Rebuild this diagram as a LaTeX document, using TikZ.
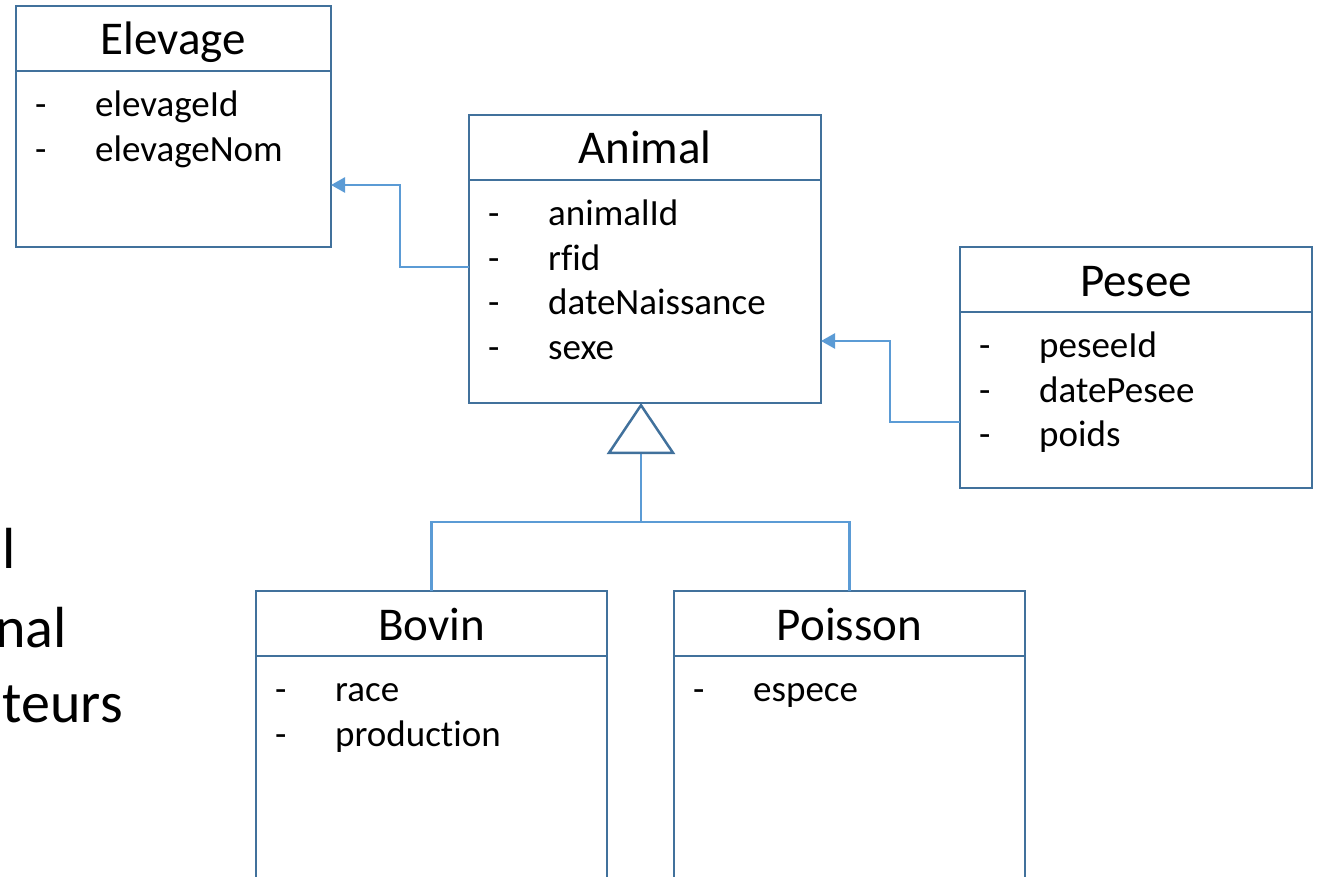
\documentclass[tikz,border=0pt]{standalone}
\usepackage{fontspec}
\setmainfont{Carlito}[Ligatures={TeX,CommonOff}]
\usetikzlibrary{arrows.meta}
\definecolor{umlline}{HTML}{41719C}
\definecolor{linkblue}{HTML}{5B9BD5}

% class title and attribute list of a class box
\newcommand\umltitle[2]{%
  \node[classtitle] (#1-title) at ([yshift=-49pt]#1.north) {#2};%
  \draw[umlsep] ([yshift=-65pt]#1.north west) -- ([yshift=-65pt]#1.north east);}
\newcommand\umlattrs[2]{%
  \foreach \t [count=\i] in {#2} {%
    \node[attrtext] (#1-d\i) at ([xshift=19pt,yshift={-110.5-(\i-1)*44.7}]#1.north west) {-};
    \node[attrtext] (#1-a\i) at ([xshift=79pt,yshift={-110.5-(\i-1)*44.7}]#1.north west) {\t};
  }}

\begin{document}
\begin{tikzpicture}[x=1pt,y=-1pt,
  classbox/.style={draw=umlline, line width=2.5pt, fill=white, anchor=north west,
    inner sep=0pt, outer sep=0pt},
  umlsep/.style={draw=umlline, line width=2.5pt},
  classtitle/.style={font=\fontsize{47}{56}\selectfont, anchor=base, inner sep=0pt},
  attrtext/.style={font=\fontsize{37}{44}\selectfont, anchor=base west, inner sep=0pt},
  slidetext/.style={font=\fontsize{58}{70}\selectfont, anchor=base east, inner sep=0pt},
  link/.style={draw=linkblue, line width=2.5pt},
  assoc/.style={link, -{Triangle[length=14pt, width=15pt]}},
  inherit/.style={link, -{Triangle[length=51pt, width=68pt, color=umlline, fill=white]}}]

\clip (0,0) rectangle (1322,877);
\fill[white] (0,0) rectangle (1322,877);

% text of the slide underneath
\node[slidetext] (s1) at (16,568) {l};
\node[slidetext] (s2) at (67,647) {nal};
\node[slidetext] (s3) at (123,722) {teurs};

% class boxes
\node[classbox, minimum width=315pt, minimum height=241pt] (elevage) at (16,6) {};
\node[classbox, minimum width=352pt, minimum height=288pt] (animal) at (469,115) {};
\node[classbox, minimum width=352pt, minimum height=241pt] (pesee) at (960,247) {};
\node[classbox, minimum width=351pt, minimum height=300pt] (bovin) at (256,591) {};
\node[classbox, minimum width=351pt, minimum height=300pt] (poisson) at (674,591) {};

\umltitle{elevage}{Elevage}
\umlattrs{elevage}{elevageId,elevageNom}
\umltitle{animal}{Animal}
\umlattrs{animal}{animalId,{rf\kern0pt{}id},dateNaissance,sexe}
\umltitle{pesee}{Pesee}
\umlattrs{pesee}{peseeId,datePesee,poids}
\umltitle{bovin}{Bovin}
\umlattrs{bovin}{race,production}
\umltitle{poisson}{Poisson}
\umlattrs{poisson}{espece}

% associations
\draw[assoc] ([yshift=-8pt]animal.west) -- ++(-69,0) |- ([yshift=-58.5pt]elevage.east);
\draw[assoc] ([yshift=-54.5pt]pesee.west) -- ++(-70,0) |- ([yshift=-82pt]animal.east);

% generalisation
\coordinate (junction) at (641,522);
\draw[link] (bovin.north) |- (junction) -| (poisson.north);
\draw[inherit] (junction) -- (junction |- animal.south);
\end{tikzpicture}
\end{document}
